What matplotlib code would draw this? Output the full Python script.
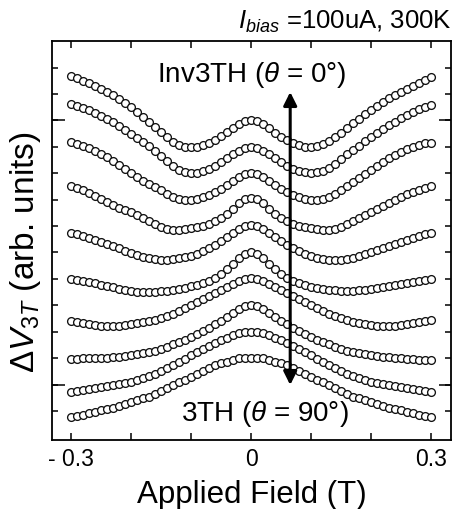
import numpy as np
import matplotlib
matplotlib.use("Agg")
import matplotlib.pyplot as plt

plt.rcParams['font.family'] = ['Liberation Sans', 'DejaVu Sans']
plt.rcParams['mathtext.fontset'] = 'custom'
plt.rcParams['mathtext.rm'] = 'Liberation Sans'
plt.rcParams['mathtext.it'] = 'Liberation Sans:italic'

# applied field (T), one point every 10 mT
field = np.round(np.arange(-30, 31) * 0.01, 2)

# Delta V_3T (arb. units, already offset), top curve = Inv3TH (0 deg), bottom = 3TH (90 deg)
dv_00 = [364, 362, 359, 357, 354, 351, 348, 345, 341, 337, 333, 328, 323, 318, 313, 308,
         303, 298, 295, 293, 293, 293, 295, 297, 300, 304, 308, 312, 316, 319, 320,
         319, 316, 312, 307, 303, 300, 297, 295, 293, 293, 294, 296, 299, 303, 307,
         312, 317, 321, 326, 330, 334, 338, 342, 345, 348, 351, 354, 357, 360, 363]
dv_10 = [336, 334, 332, 330, 327, 324, 321, 318, 314, 310, 306, 302, 298, 294, 289, 284,
         279, 274, 270, 268, 267, 267, 269, 271, 274, 278, 282, 286, 289, 292, 293,
         292, 289, 286, 282, 278, 274, 271, 269, 268, 267, 268, 269, 272, 276, 281,
         286, 290, 294, 299, 303, 307, 311, 315, 318, 322, 325, 328, 331, 333, 335]
dv_20 = [298, 296, 294, 292, 289, 286, 283, 279, 275, 271, 267, 263, 259, 256, 253, 250,
         246, 243, 241, 240, 240, 241, 243, 245, 248, 251, 255, 259, 263, 266, 267,
         266, 263, 259, 255, 251, 248, 245, 243, 241, 240, 240, 241, 243, 246, 250,
         254, 258, 262, 266, 270, 274, 278, 282, 285, 288, 291, 293, 295, 297, 297]
dv_30 = [254, 252, 250, 247, 244, 241, 238, 235, 232, 230, 228, 225, 222, 219, 216, 213,
         211, 210, 210, 211, 212, 213, 214, 216, 219, 222, 226, 231, 237, 241, 242,
         241, 237, 231, 226, 222, 219, 216, 214, 213, 212, 211, 210, 210, 211, 213,
         216, 219, 222, 225, 228, 231, 234, 237, 240, 243, 246, 248, 250, 252, 254]
dv_40 = [207, 206, 204, 202, 200, 198, 196, 194, 192, 189, 187, 185, 183, 182, 181, 180,
         180, 181, 182, 183, 184, 186, 189, 192, 195, 199, 203, 207, 211, 214, 215,
         214, 211, 207, 203, 199, 195, 192, 189, 186, 184, 182, 181, 180, 180, 180,
         181, 182, 184, 186, 188, 190, 192, 194, 196, 198, 200, 202, 204, 206, 207]
dv_50 = [161, 160, 159, 158, 157, 155, 154, 153, 151, 150, 149, 148, 148, 148, 148, 149,
         149, 150, 151, 152, 154, 155, 157, 159, 162, 166, 171, 176, 182, 186, 188,
         186, 182, 176, 171, 166, 162, 159, 157, 155, 153, 152, 151, 150, 150, 149,
         149, 149, 150, 150, 151, 152, 153, 154, 155, 156, 157, 158, 159, 160, 161]
dv_60 = [119, 118, 117, 116, 115, 114, 114, 114, 114, 115, 116, 117, 118, 119, 120, 122,
         124, 126, 129, 132, 135, 138, 141, 144, 147, 150, 153, 156, 159, 161, 162,
         161, 159, 156, 153, 150, 147, 144, 141, 138, 135, 132, 129, 126, 124, 122,
         120, 118, 117, 116, 115, 114, 114, 114, 114, 115, 116, 117, 118, 119, 120]
dv_70 = [81, 81, 82, 82, 82, 82, 82, 83, 83, 84, 85, 86, 87, 88, 89, 91,
         93, 96, 98, 100, 103, 106, 109, 112, 116, 119, 123, 127, 131, 134, 135,
         134, 131, 127, 123, 119, 116, 112, 109, 106, 103, 100, 98, 96, 93, 91,
         89, 88, 87, 86, 85, 84, 83, 83, 82, 82, 81, 81, 80, 80, 80]
dv_80 = [48, 49, 50, 51, 52, 53, 54, 55, 56, 57, 58, 60, 62, 64, 66, 69,
         72, 75, 78, 81, 85, 88, 91, 94, 97, 100, 102, 105, 107, 108, 108,
         108, 107, 105, 102, 100, 97, 94, 91, 88, 85, 81, 78, 75, 72, 69,
         66, 64, 62, 60, 58, 57, 56, 55, 54, 53, 52, 51, 50, 49, 48]
dv_90 = [23, 24, 25, 27, 28, 30, 31, 32, 34, 36, 38, 40, 42, 43, 46, 49,
         52, 55, 58, 60, 63, 66, 69, 72, 75, 77, 78, 80, 82, 82, 82,
         82, 82, 80, 78, 77, 75, 72, 69, 66, 63, 60, 58, 55, 52, 49,
         46, 43, 42, 40, 38, 36, 34, 32, 31, 30, 28, 27, 25, 24, 23]

all_curves = [dv_00, dv_10, dv_20, dv_30, dv_40, dv_50, dv_60, dv_70, dv_80, dv_90]

fig = plt.figure(figsize=(4.65, 5.09), dpi=100)
ax = fig.add_axes([52 / 465, 69 / 509, 399 / 465, 399 / 509])

for dv in all_curves:
    ax.plot(field, dv, linestyle='none', marker='o', markersize=5.6,
            markerfacecolor='white', markeredgecolor='#111111', markeredgewidth=0.95)

ax.set_xlim(-0.332, 0.333)
ax.set_ylim(0, 399)

ax.set_xticks([-0.3, 0, 0.3])
ax.set_xticklabels(['- 0.3', '0', '0.3'])
ax.set_xticks([-0.2, -0.1, 0.1, 0.2], minor=True)
ax.set_yticks([55.4, 319.9])
ax.set_yticklabels([])
ax.set_yticks(np.linspace(29, 372.5, 14), minor=True)

ax.tick_params(which='both', direction='in', top=True, right=True, width=1.1,
               labelsize=16.5, pad=6)
ax.tick_params(axis='x', which='both', length=5)
ax.tick_params(axis='y', which='major', length=9)
ax.tick_params(axis='y', which='minor', length=4.5)
for sp in ax.spines.values():
    sp.set_linewidth(1.3)

ax.set_xlabel('Applied Field (T)', fontsize=22.5, labelpad=6)
ax.set_ylabel(r'$\Delta V_{\mathit{3T}}$ (arb. units)', fontsize=24)
ax.yaxis.set_label_coords(-0.022, 0.47)

ax.text(0.0, 365, r'Inv3TH ($\theta$ = 0°)', fontsize=20, ha='center', va='center')
ax.text(0.022, 26, r'3TH ($\theta$ = 90°)', fontsize=20, ha='center', va='center')

ax.annotate('', xy=(0.065, 348), xytext=(0.065, 55),
            arrowprops=dict(arrowstyle='<|-|>', color='black', lw=2.2,
                            mutation_scale=20, shrinkA=0, shrinkB=0))

fig.text(452 / 465, 1 - 29 / 509, r'$I_{bias}$ =100uA, 300K', fontsize=18.5,
         ha='right', va='baseline')

fig.savefig('out.png', dpi=100, facecolor='white')
